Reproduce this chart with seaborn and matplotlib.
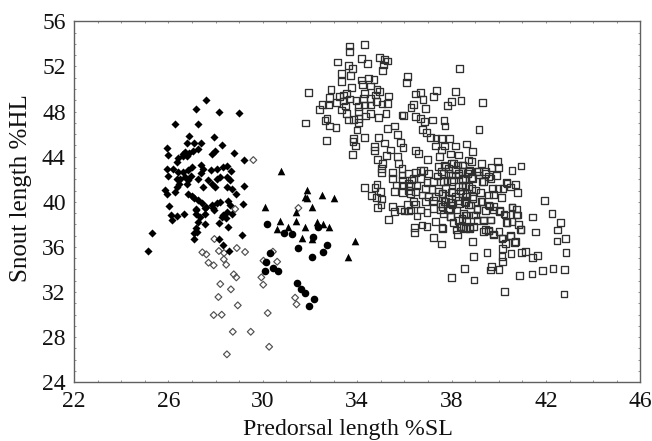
import numpy as np
import pandas as pd
import seaborn as sns
import matplotlib.pyplot as plt
from matplotlib.ticker import MultipleLocator

# Values: (predorsal length %SL, snout length %HL)
filled_diamonds = [
    (27.6, 49.05), (27.16, 48.2), (28.14, 48.0), (29.0, 47.85), (26.3, 46.9), (27.26, 46.9),
    (26.86, 45.85), (27.94, 45.7), (26.8, 45.25), (27.1, 45.2), (27.4, 45.2), (28.26, 45.05),
    (25.96, 44.75), (26.0, 44.15), (27.27, 44.7), (27.06, 44.5), (26.89, 44.3), (26.7, 44.4),
    (26.6, 44.2), (26.78, 44.05), (26.63, 44.05), (27.98, 44.5), (27.84, 44.25), (28.8, 44.3),
    (29.2, 43.7), (26.42, 43.85), (26.35, 43.55), (27.37, 43.3), (25.93, 42.9), (26.19, 42.9),
    (26.4, 42.67), (26.64, 42.67), (26.85, 42.82), (27.02, 43.06), (27.46, 42.9), (27.37, 42.55),
    (27.81, 42.82), (28.08, 42.9), (28.33, 43.1), (28.48, 43.17), (28.65, 42.73), (26.0, 42.3),
    (26.36, 42.0), (26.5, 42.0), (26.43, 41.6), (26.36, 41.3), (26.71, 42.2), (26.96, 42.3),
    (26.85, 41.9), (26.78, 41.6), (27.27, 42.05), (27.7, 41.9), (27.84, 41.6), (27.98, 41.3),
    (28.05, 42.0), (28.19, 42.2), (28.48, 42.2), (28.62, 41.9), (27.46, 41.3), (28.48, 41.3),
    (28.69, 41.15), (29.21, 41.4), (25.86, 41.04), (25.93, 40.69), (26.3, 40.89), (26.85, 40.69),
    (26.99, 40.51), (27.09, 40.31), (27.27, 40.16), (27.41, 39.87), (27.6, 39.56), (27.84, 39.71),
    (28.05, 39.87), (28.19, 40.0), (28.54, 40.07), (28.62, 39.71), (28.87, 40.69), (26.04, 39.63),
    (29.15, 39.8), (27.17, 39.36), (27.55, 39.42), (27.91, 39.42), (26.1, 38.83), (26.17, 38.39),
    (26.36, 38.77), (26.68, 38.92), (27.16, 39.27), (27.16, 38.92), (27.56, 38.89), (27.34, 38.68),
    (27.27, 38.23), (27.54, 38.0), (27.17, 37.65), (27.2, 37.35), (27.1, 37.26), (27.1, 36.67),
    (27.95, 39.27), (28.48, 39.12), (28.7, 38.92), (28.26, 38.68), (28.43, 38.53), (28.16, 38.09),
    (28.54, 37.79), (29.11, 37.06), (28.16, 36.67), (28.33, 36.17), (28.59, 35.64), (25.3, 37.26),
    (25.15, 35.66), (28.33, 38.83),
]
open_diamonds = [
    (29.6, 43.7), (27.95, 36.7), (27.44, 35.52), (27.61, 35.34), (28.14, 35.64), (28.36, 35.46),
    (28.9, 35.9), (29.25, 35.55), (28.35, 34.9), (27.7, 34.6), (27.92, 34.37), (28.45, 34.42),
    (28.77, 33.57), (28.88, 33.3), (28.2, 32.71), (28.65, 32.24), (28.12, 31.56), (28.94, 30.82),
    (27.92, 29.96), (28.26, 29.99), (28.73, 28.48), (29.49, 28.48), (28.48, 26.48), (30.27, 27.15),
    (30.21, 30.14), (30.02, 32.65), (29.94, 33.3), (30.03, 34.78), (30.43, 35.58), (30.61, 34.69),
    (31.37, 31.5), (31.43, 30.91), (28.83, 39.36), (31.51, 39.45),
]
filled_circles = [
    (30.18, 38.0), (30.92, 37.23), (31.26, 37.12), (32.12, 36.9), (32.36, 37.79), (32.73, 36.14),
    (31.49, 35.88), (32.56, 35.52), (32.08, 35.1), (30.31, 35.43), (30.13, 34.69), (30.09, 33.86),
    (30.45, 34.1), (30.66, 33.89), (31.46, 32.77), (31.64, 32.24), (31.81, 31.94), (32.18, 31.41),
    (31.98, 30.76),
]
triangles = [
    (30.79, 42.76), (31.89, 41.04), (32.5, 40.57), (33.0, 40.36), (31.8, 40.45), (31.89, 40.36),
    (30.1, 39.51), (32.08, 39.51), (31.4, 39.07), (30.75, 38.32), (31.4, 38.32), (32.28, 38.21),
    (32.55, 38.03), (32.8, 37.74), (31.78, 37.79), (31.06, 37.79), (30.61, 37.59), (31.66, 36.76),
    (33.92, 36.55), (33.63, 35.08), (32.08, 36.67),
]
open_squares = [
    (33.68, 53.81), (33.68, 53.31), (34.3, 53.93), (33.17, 52.39), (34.17, 52.69), (34.44, 52.28),
    (34.94, 52.81), (35.15, 52.63), (35.29, 52.48), (35.11, 52.13), (35.08, 51.65), (33.63, 52.1),
    (33.8, 51.8), (33.35, 51.36), (33.71, 51.21), (33.35, 50.65), (34.19, 50.8), (34.48, 50.97),
    (34.71, 50.86), (34.21, 50.41), (34.55, 50.27), (34.84, 49.97), (33.76, 50.15), (32.89, 49.94),
    (31.94, 49.67), (32.83, 49.26), (32.52, 48.61), (32.4, 48.2), (32.77, 48.58), (33.14, 48.82),
    (33.24, 49.32), (33.42, 49.47), (33.56, 49.62), (33.68, 49.11), (33.95, 48.97), (34.27, 49.17),
    (34.55, 49.17), (34.81, 48.88), (35.33, 49.38), (35.29, 48.73), (34.95, 49.76), (34.77, 49.47),
    (34.3, 49.62), (33.42, 48.94), (33.49, 48.49), (33.35, 48.14), (33.56, 47.84), (34.06, 48.43),
    (34.06, 47.99), (34.3, 48.58), (34.55, 48.58), (35.05, 48.67), (35.22, 47.84), (34.91, 47.46),
    (34.55, 47.84), (34.34, 47.61), (34.06, 47.4), (33.85, 47.31), (33.63, 47.25), (32.72, 47.4),
    (32.83, 46.72), (33.1, 46.6), (32.64, 47.19), (31.82, 46.99), (34.06, 47.02), (33.99, 46.36),
    (35.3, 46.51), (35.57, 46.72), (34.3, 45.71), (33.85, 45.63), (33.82, 45.33), (33.93, 44.95),
    (33.79, 44.21), (32.7, 45.45), (34.92, 45.69), (35.16, 45.21), (35.71, 45.98), (35.84, 45.27),
    (35.94, 44.83), (34.72, 44.89), (34.72, 44.53), (35.4, 44.59), (35.23, 44.12), (34.86, 43.76),
    (35.08, 43.41), (35.76, 43.41), (35.71, 44.0), (36.14, 51.09), (36.08, 50.59), (36.48, 49.56),
    (36.69, 49.67), (36.79, 49.08), (37.25, 49.32), (37.37, 49.85), (36.28, 48.37), (36.39, 48.61),
    (36.91, 48.26), (35.9, 47.7), (35.97, 47.67), (36.46, 47.55), (36.7, 47.37), (36.84, 47.13),
    (37.21, 47.25), (36.77, 46.42), (36.94, 46.16), (37.1, 45.71), (37.34, 45.66), (37.33, 44.95),
    (36.48, 44.53), (36.6, 44.3), (36.99, 43.76), (37.48, 44.0), (35.02, 42.96), (35.02, 42.61),
    (35.9, 42.96), (35.9, 42.37), (35.5, 42.58), (35.5, 42.08), (35.92, 41.93), (36.18, 42.52),
    (34.31, 41.28), (34.84, 41.52), (34.76, 41.28), (34.98, 40.9), (34.61, 40.57), (34.81, 40.36),
    (35.03, 40.25), (35.01, 39.71), (34.86, 39.51), (35.33, 38.41), (35.51, 39.57), (35.58, 39.12),
    (35.83, 39.33), (36.01, 39.18), (36.15, 39.77), (36.18, 39.18), (35.58, 40.9), (35.92, 40.84),
    (35.68, 41.49), (35.92, 41.49), (36.18, 41.63), (36.18, 40.98), (36.82, 42.81), (36.68, 42.75),
    (36.47, 42.58), (37.39, 42.28), (37.03, 42.52), (37.24, 41.78), (36.96, 41.69), (36.68, 42.08),
    (36.4, 42.08), (36.32, 41.93), (36.25, 41.48), (36.54, 41.48), (36.89, 41.19), (37.17, 41.1),
    (37.46, 40.89), (37.31, 40.45), (37.03, 40.45), (36.75, 40.6), (36.47, 40.89), (36.25, 40.75),
    (36.4, 40.0), (36.47, 39.8), (36.89, 40.0), (37.22, 40.1), (37.24, 39.42), (36.96, 39.03),
    (36.68, 39.27), (36.25, 39.27), (36.54, 38.74), (37.31, 38.23), (36.96, 37.79), (36.75, 37.94),
    (36.44, 37.73), (36.44, 37.26), (37.24, 36.84), (38.33, 51.83), (38.16, 49.79), (37.99, 48.9),
    (37.83, 48.52), (38.4, 48.99), (39.3, 48.82), (37.68, 47.22), (37.72, 46.72), (39.16, 46.42),
    (37.59, 45.6), (37.9, 45.63), (38.64, 45.12), (38.17, 44.95), (37.7, 44.95), (38.88, 44.44),
    (37.97, 44.24), (38.3, 44.15), (37.59, 44.59), (39.95, 43.56), (39.98, 43.06), (39.71, 43.06),
    (39.27, 43.41), (38.86, 43.56), (38.47, 43.26), (38.09, 43.41), (37.73, 43.11), (40.56, 42.79),
    (40.94, 43.17), (39.9, 42.32), (39.43, 42.52), (39.15, 42.67), (38.72, 42.67), (38.3, 42.38),
    (37.87, 42.52), (37.59, 42.67), (39.67, 42.08), (39.29, 41.78), (38.89, 42.08), (38.47, 41.99),
    (38.01, 41.78), (37.66, 41.78), (40.32, 41.69), (40.7, 41.55), (40.49, 41.31), (39.97, 41.19),
    (39.75, 41.19), (39.22, 40.81), (38.86, 41.19), (38.37, 40.96), (38.01, 40.81), (37.63, 40.75),
    (40.81, 40.81), (39.78, 40.66), (39.57, 40.6), (40.11, 40.37), (39.29, 40.01), (38.89, 40.45),
    (38.58, 40.45), (38.34, 39.86), (37.94, 39.92), (37.69, 40.01), (39.61, 39.63), (39.08, 39.42),
    (38.72, 39.72), (40.56, 39.54), (40.77, 39.36), (40.04, 39.12), (39.78, 39.27), (39.43, 39.21),
    (39.0, 38.83), (38.58, 38.83), (38.23, 39.27), (37.92, 39.42), (37.63, 39.57), (41.95, 40.1),
    (42.26, 38.98), (41.44, 38.65), (40.79, 38.83), (40.22, 38.92), (39.64, 38.39), (39.36, 38.33),
    (39.08, 38.33), (38.62, 38.39), (37.94, 38.68), (37.66, 38.92), (42.61, 38.18), (40.35, 38.18),
    (40.84, 38.0), (40.91, 37.56), (42.5, 37.5), (41.55, 37.32), (40.01, 37.35), (39.57, 37.41),
    (39.36, 37.35), (40.49, 37.0), (40.16, 36.79), (39.78, 37.14), (38.93, 37.79), (38.76, 37.65),
    (38.4, 37.79), (38.06, 38.18), (37.63, 37.65), (38.26, 37.09), (38.89, 36.47), (40.66, 36.41),
    (42.47, 36.52), (42.84, 36.76), (37.59, 36.26), (40.28, 36.29), (40.16, 35.87), (39.5, 35.52),
    (38.93, 35.13), (40.52, 35.43), (40.98, 35.49), (41.15, 35.58), (41.44, 35.05), (41.66, 35.22),
    (42.85, 35.52), (40.14, 35.13), (40.16, 34.72), (39.71, 34.25), (39.64, 33.95), (40.01, 34.01),
    (38.54, 34.1), (40.89, 33.45), (41.41, 33.6), (41.86, 33.92), (42.3, 34.1), (42.79, 33.98),
    (37.99, 33.3), (38.95, 33.07), (40.23, 32.03), (42.77, 31.83),
    # dense middle of the cloud
    (38.72, 43.71), (38.44, 42.67), (38.77, 42.82), (39.08, 42.67), (39.43, 42.67), (38.58, 41.99),
    (38.86, 42.17), (39.15, 42.38), (39.36, 41.79), (39.57, 42.23), (40.18, 41.2), (40.35, 41.64),
    (39.01, 41.05), (38.72, 41.35), (38.48, 41.35), (38.62, 40.75), (38.91, 40.31), (39.25, 40.01),
    (39.57, 39.72), (39.78, 39.57), (40.04, 39.2), (40.28, 38.83), (40.56, 39.48), (40.77, 38.83),
    (39.08, 39.33), (38.79, 39.72), (38.54, 40.01), (38.62, 38.83), (38.94, 38.83), (39.36, 38.39),
    (39.64, 38.39), (38.44, 38.54), (40.32, 38.15), (40.56, 38.24), (38.77, 37.74), (38.51, 37.74),
    (39.43, 37.56), (39.57, 37.44), (39.78, 37.06), (40.14, 36.76), (40.49, 36.97), (40.7, 36.47),
    (40.94, 37.56), (37.53, 41.78), (37.81, 41.87), (38.09, 41.93), (38.45, 42.08), (37.67, 42.52),
    (38.02, 42.37), (38.3, 42.52), (38.66, 42.52), (37.88, 42.96), (38.16, 42.87), (37.74, 41.19),
    (38.02, 40.89), (38.3, 41.34), (38.59, 41.48), (38.45, 40.75), (38.16, 40.45), (37.88, 40.3),
    (37.6, 40.75), (37.74, 40.0), (38.02, 39.71), (38.3, 40.1), (38.59, 39.92), (37.53, 39.8),
    (37.88, 39.27), (37.53, 39.27), (38.52, 38.97), (37.95, 38.68), (38.3, 38.32), (37.6, 37.7),
    (38.2, 37.5), (38.38, 37.79), (38.59, 37.64), (37.71, 43.26), (37.99, 43.4), (38.26, 43.26),
    (38.47, 43.26), (37.46, 43.11),
]
x_ticks = [22, 26, 30, 34, 38, 42, 46]
y_ticks = [24, 28, 32, 36, 40, 44, 48, 52, 56]

sns.set_theme(style='white')
plt.rcParams['font.family'] = ['Liberation Serif']

fig = plt.figure(figsize=(6.52, 4.41), dpi=100)
ax = fig.add_axes([74 / 652, 1 - 382.3 / 441, 566.3 / 652, 361 / 441])

# Each group keeps its own marker style
sns.scatterplot(data=pd.DataFrame(open_squares, columns=['x', 'y']), x='x', y='y', marker='s', s=24,
                facecolor='none', edgecolor='#303030', linewidth=0.95, ax=ax)
sns.scatterplot(data=pd.DataFrame(open_diamonds, columns=['x', 'y']), x='x', y='y', marker='D', s=12,
                facecolor='none', edgecolor='#505050', linewidth=0.85, ax=ax)
sns.scatterplot(data=pd.DataFrame(filled_diamonds, columns=['x', 'y']), x='x', y='y', marker='D', s=17,
                color='black', linewidth=0, ax=ax)
sns.scatterplot(data=pd.DataFrame(filled_circles, columns=['x', 'y']), x='x', y='y', marker='o', s=30,
                color='black', linewidth=0, ax=ax)
sns.scatterplot(data=pd.DataFrame(triangles, columns=['x', 'y']), x='x', y='y', marker='^', s=30,
                color='black', linewidth=0, ax=ax)

ax.set_xlim(22, 46)
ax.set_ylim(24, 56)
ax.set_xticks(x_ticks)
ax.set_yticks(y_ticks)
ax.xaxis.set_minor_locator(MultipleLocator(1))
ax.yaxis.set_minor_locator(MultipleLocator(1))
ax.tick_params(which='both', direction='in', length=1.5, width=0.6, color='#808080',
               top=True, right=True, bottom=True, left=True, labelsize=17, labelcolor='#111111', pad=6)
ax.grid(False)
for spine in ax.spines.values():
    spine.set_color('#606060')
    spine.set_linewidth(1.0)
ax.set_xlabel('Predorsal length %SL', fontsize=17.2, color='#111111', x=0.483, labelpad=5)
ax.set_ylabel('Snout length %HL', fontsize=18, color='#111111', y=0.538, labelpad=7)

plt.savefig('out.png', dpi=100)
